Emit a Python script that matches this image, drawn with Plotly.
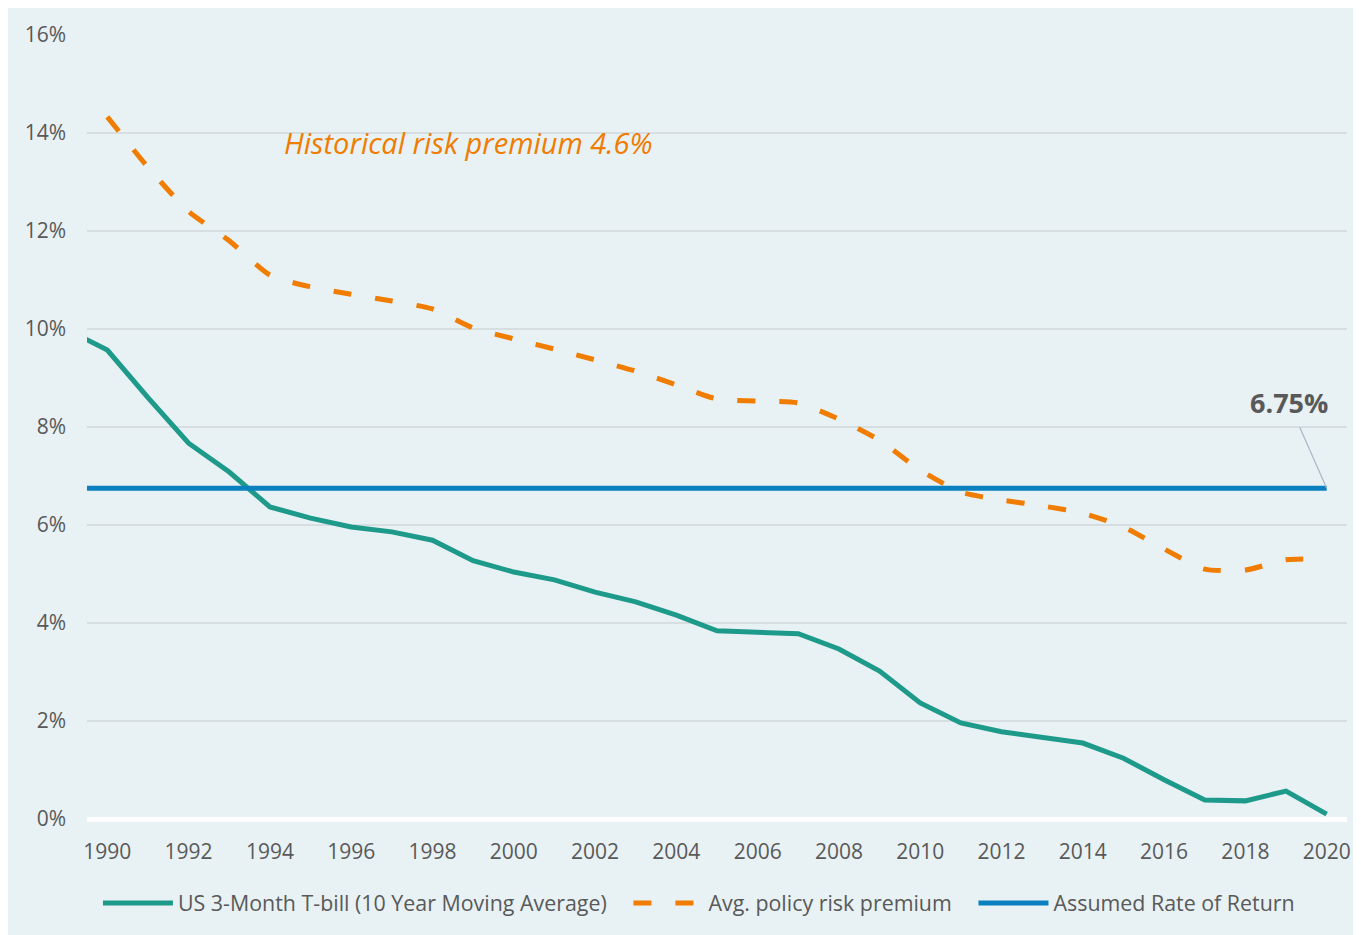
import plotly.graph_objects as go

years_tbill = list(range(1989, 2021))
tbill = [9.99, 9.57, 8.60, 7.67, 7.08, 6.37, 6.14, 5.96, 5.86, 5.69, 5.27,
         5.04, 4.88, 4.63, 4.43, 4.16, 3.84, 3.80, 3.78, 3.47, 3.02,
         2.37, 1.96, 1.78, 1.67, 1.55, 1.24, 0.80, 0.39, 0.37, 0.57, 0.10]

years_prem = list(range(1990, 2021))
premium = [14.33, 13.30, 12.40, 11.80, 11.10, 10.86, 10.71, 10.57, 10.41, 10.02,
           9.80, 9.59, 9.37, 9.14, 8.86, 8.57, 8.53, 8.49, 8.16, 7.73,
           7.12, 6.67, 6.51, 6.39, 6.24, 5.96, 5.51, 5.10, 5.08, 5.29, 5.31]

years_rate = [1989, 2020]
assumed = [6.75, 6.75]

x_ticks = list(range(1990, 2021, 2))
y_ticks = list(range(0, 17, 2))
y_labels = [f"{v}%" for v in y_ticks]

FONT = "Open Sans"
GRAY = "#595959"
PAD = "\u00a0" * 3

# page body has an 8px default margin; figure is sized to fit the 1361x935 window
W, H = 1353, 927
L, R, T, B = 79, 10, 27, 116
PW, PH = W - L - R, H - T - B

fig = go.Figure()
fig.add_trace(go.Scatter(
    x=years_tbill, y=tbill, mode="lines",
    name="US 3-Month T-bill (10 Year Moving Average)" + PAD,
    line=dict(color="#1e9a8a", width=5)))
fig.add_trace(go.Scatter(
    x=years_prem, y=premium, mode="lines",
    name="Avg. policy risk premium" + PAD,
    line=dict(color="#f07c00", width=5, dash="18px,24px", shape="spline", smoothing=0.6)))
fig.add_trace(go.Scatter(
    x=years_rate, y=assumed, mode="lines",
    name="Assumed Rate of Return",
    line=dict(color="#0a80c0", width=5)))

fig.add_annotation(x=1994.3, y=13.8, xref="x", yref="y",
                   text="<i>Historical risk premium 4.6%</i>", showarrow=False,
                   xanchor="left", yanchor="middle",
                   font=dict(family=FONT, size=29, color="#f07c00"))

fig.add_annotation(x=2020, y=assumed[-1], xref="x", yref="y",
                   text="<b>6.75%</b>", showarrow=True, arrowhead=0,
                   arrowwidth=1.2, arrowcolor="#a9b7c6",
                   ax=-38, ay=-86, borderpad=6,
                   font=dict(family=FONT, size=27, color=GRAY))

fig.update_layout(
    width=W, height=H,
    margin=dict(l=L, r=R, t=T, b=B),
    paper_bgcolor="#e8f1f4", plot_bgcolor="#e8f1f4",
    font=dict(family=FONT, size=21, color=GRAY),
    showlegend=True,
    legend=dict(orientation="h", x=(90 - L) / PW, y=-(903 - 8 - (T + PH)) / PH,
                xanchor="left", yanchor="middle",
                itemwidth=70, font=dict(family=FONT, size=21.4, color=GRAY),
                bgcolor="rgba(0,0,0,0)", traceorder="normal"),
    xaxis=dict(range=[1989.5, 2020.5], tickmode="array", tickvals=x_ticks,
               ticktext=[str(v) for v in x_ticks], showgrid=False, zeroline=False,
               showline=False, ticks="", ticklabelstandoff=18,
               tickfont=dict(family=FONT, size=21, color=GRAY)),
    yaxis=dict(range=[0, 16], tickmode="array", tickvals=y_ticks, ticktext=y_labels,
               showgrid=True, gridcolor="#d6dee2", gridwidth=1.5,
               zeroline=True, zerolinecolor="white", zerolinewidth=5,
               showline=False, ticks="", ticklabelstandoff=20,
               tickfont=dict(family=FONT, size=21, color=GRAY)),
)

fig.write_html("out.html")
